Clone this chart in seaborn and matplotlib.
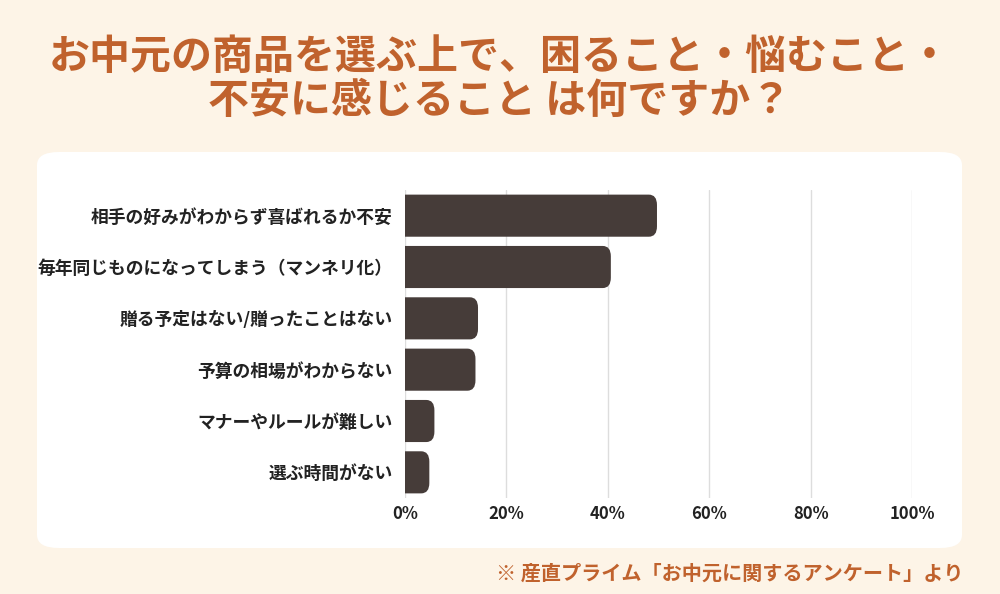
import matplotlib
matplotlib.use("Agg")
import matplotlib.pyplot as plt
import seaborn as sns
import pandas as pd
from matplotlib.patches import FancyBboxPatch, Rectangle

categories = [
    "相手の好みがわからず喜ばれるか不安",
    "毎年同じものになってしまう（マンネリ化）",
    "贈る予定はない/贈ったことはない",
    "予算の相場がわからない",
    "マナーやルールが難しい",
    "選ぶ時間がない",
]
values = [49.7, 40.6, 14.4, 13.9, 5.8, 4.8]
xticks = [0, 20, 40, 60, 80, 100]
xtick_labels = ["0%", "20%", "40%", "60%", "80%", "100%"]
title = "お中元の商品を選ぶ上で、困ること・悩むこと・\n不安に感じること は何ですか？"
source = "※ 産直プライム「お中元に関するアンケート」より"

sns.set_theme(style="white")
plt.rcParams["font.family"] = ["Noto Sans CJK JP", "DejaVu Sans"]

BG = "#FDF4E7"
TITLE_C = "#C0622D"
BAR_C = "#463C39"

fig = plt.figure(figsize=(10, 5.94), dpi=100)
fig.patch.set_facecolor(BG)

W, H = 1000, 594
# white panel
panel = FancyBboxPatch((37 / W, 46 / H), (962 - 37) / W, (442 - 46) / H,
                       boxstyle="round,pad=0,rounding_size=0.022",
                       transform=fig.transFigure, facecolor="white",
                       edgecolor="none", zorder=-5)
fig.patches.append(panel)

fig.text(0.5, 1 - 79 / H, title, ha="center", va="center", fontsize=29.5,
         fontweight="bold", color=TITLE_C, linespacing=1.05)
fig.text(963 / W, 1 - 573 / H, source, ha="right", va="center", fontsize=14.5,
         fontweight="bold", color=TITLE_C)

ax = fig.add_axes([405 / W, 1 - 498 / H, (912 - 405) / W, (498 - 190) / H])
ax.set_zorder(2)
ax.set_facecolor("none")
df = pd.DataFrame({"cat": categories, "val": values})
sns.barplot(data=df, y="cat", x="val", orient="h", color=BAR_C, width=0.82,
            ax=ax, saturation=1)

ax.set_xlim(0, 100)
ax.set_ylim(5.5, -0.5)

clip_rect = Rectangle((0, -1), 200, 10, transform=ax.transData)
# replace bars with right-rounded bars
patches = list(ax.patches)
for p in patches:
    x0, y0 = p.get_x(), p.get_y()
    w, h = p.get_width(), p.get_height()
    p.set_visible(False)
    r = 1.6
    fb = FancyBboxPatch((x0 - r * 2, y0), w + r * 2, h,
                        boxstyle="round,pad=0,rounding_size=1.6",
                        mutation_aspect=h / 6.5,
                        facecolor=BAR_C, edgecolor="none", zorder=3)
    ax.add_patch(fb)
    fb.set_clip_path(clip_rect)

ax.set_xticks(xticks)
ax.set_xticklabels(xtick_labels, fontsize=12, fontweight="bold", color="#222222")
ax.tick_params(axis="y", labelsize=12.8, length=0, pad=9, labelcolor="#222222")
for lbl in ax.get_yticklabels():
    lbl.set_fontweight("bold")
ax.tick_params(axis="x", length=0, pad=5)
ax.set_xlabel("")
ax.set_ylabel("")
for s in ax.spines.values():
    s.set_visible(False)
ax.grid(axis="x", color="#DDDDDD", linewidth=1, zorder=0)
ax.set_axisbelow(True)

fig.savefig("out.png", dpi=100, facecolor=BG)
